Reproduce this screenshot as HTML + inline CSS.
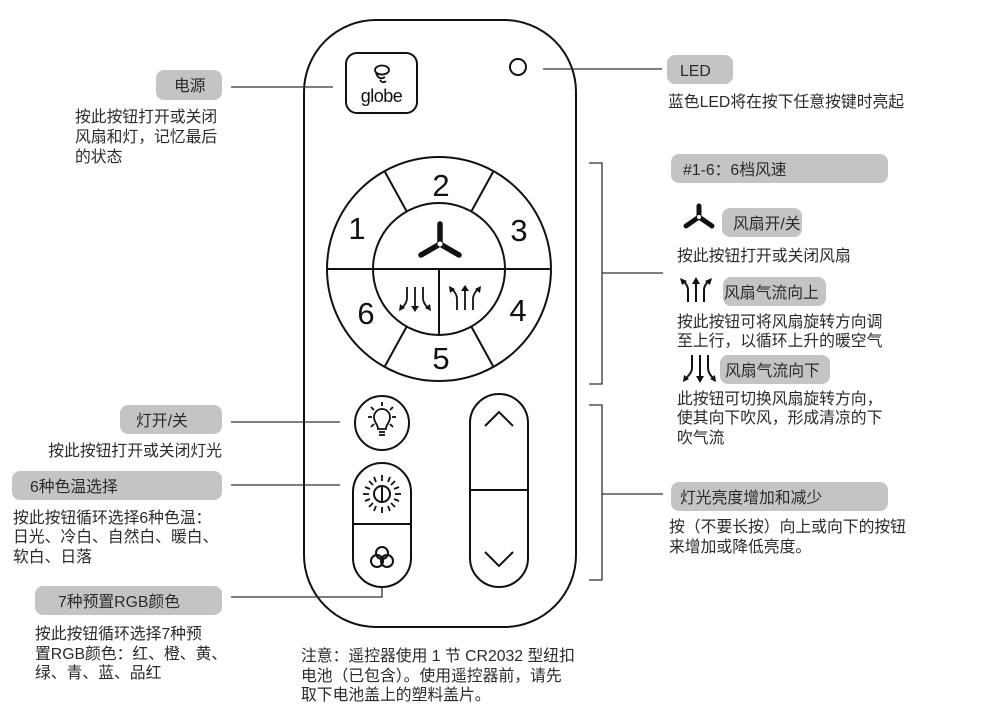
<!DOCTYPE html>
<html><head><meta charset="utf-8"><style>
html,body{margin:0;padding:0;background:#fff;}
svg{display:block;}
.t{font-family:"Liberation Sans","Noto Sans CJK SC",sans-serif;font-size:15.8px;fill:#2a2a2a;}
.n{font-family:"Liberation Sans",sans-serif;font-size:31px;fill:#111;}
</style></head><body>
<svg width="983" height="713" viewBox="0 0 983 713" xmlns="http://www.w3.org/2000/svg">
<g fill="none" stroke="#111" stroke-width="2">
<rect x="304" y="20" width="272" height="607" rx="72"/>
<rect x="346" y="53" width="71" height="60" rx="11"/>
<circle cx="518" cy="67" r="8"/>
<circle cx="439" cy="269" r="112"/>
<circle cx="439" cy="269" r="66"/>
<line x1="327" y1="269" x2="551" y2="269"/>
<line x1="439" y1="269" x2="439" y2="335"/>
<line x1="385" y1="172" x2="407" y2="212"/>
<line x1="493" y1="172" x2="471" y2="212"/>
<line x1="385" y1="366" x2="407" y2="326"/>
<line x1="493" y1="366" x2="471" y2="326"/>
<circle cx="382" cy="423" r="27"/>
<rect x="353" y="463" width="58" height="124" rx="29"/>
<line x1="353" y1="524" x2="411" y2="524"/>
<rect x="470" y="394" width="58" height="193" rx="29"/>
<line x1="470" y1="490" x2="528" y2="490"/>
<polyline points="485,426 499,412 513,426"/>
<polyline points="485,552 499,566 513,552"/>
<circle cx="382" cy="553" r="6"/>
<circle cx="377" cy="561" r="6"/>
<circle cx="387" cy="561" r="6"/>
<circle cx="382" cy="494" r="8"/>
<line x1="382" y1="486" x2="382" y2="502"/>
<g stroke-width="1.8">
<line x1="382" y1="475" x2="382" y2="481"/><line x1="382" y1="507" x2="382" y2="513"/>
<line x1="363" y1="494" x2="369" y2="494"/><line x1="395" y1="494" x2="401" y2="494"/>
<line x1="369" y1="481" x2="373" y2="485"/><line x1="391" y1="503" x2="395" y2="507"/>
<line x1="395" y1="481" x2="391" y2="485"/><line x1="369" y1="507" x2="373" y2="503"/>
<line x1="374" y1="477" x2="376" y2="482"/><line x1="388" y1="506" x2="390" y2="511"/>
<line x1="390" y1="477" x2="388" y2="482"/><line x1="374" y1="511" x2="376" y2="506"/>
<line x1="365" y1="487" x2="370" y2="489"/><line x1="394" y1="499" x2="399" y2="501"/>
<line x1="399" y1="487" x2="394" y2="489"/><line x1="365" y1="501" x2="370" y2="499"/>
</g>
<g stroke-width="1.8">
<path d="M378,429 C378,424 374,423 374,417 A8,8 0 1 1 390,417 C390,423 386,424 386,429 Z"/>
<line x1="379" y1="432" x2="385" y2="432"/><line x1="379" y1="435" x2="385" y2="435"/>
<line x1="382" y1="402" x2="382" y2="406"/>
<line x1="368" y1="417" x2="372" y2="417"/><line x1="392" y1="417" x2="396" y2="417"/>
<line x1="371" y1="407" x2="374" y2="410"/><line x1="393" y1="407" x2="390" y2="410"/>
<line x1="371" y1="427" x2="374" y2="424"/><line x1="393" y1="427" x2="390" y2="424"/>
</g>
</g>
<g stroke="#111" stroke-width="5.5" stroke-linecap="round" fill="none">
<line x1="440" y1="244" x2="440" y2="224"/>
<line x1="440" y1="244" x2="421" y2="255"/>
<line x1="440" y1="244" x2="459" y2="255"/>
</g>
<circle cx="440" cy="244" r="2.5" fill="#fff"/>
<g stroke="#111" stroke-width="1.8" fill="none">
<path d="M407,287 V298 Q407,303 402,308"/><path d="M415,287 V308"/><path d="M423,287 V298 Q423,303 428,308"/>
</g>
<g fill="#111"><path d="M399,311 L400,304 L405,308Z"/><path d="M411,306 L419,306 L415,312Z"/><path d="M431,311 L425,308 L430,304Z"/></g>
<g stroke="#111" stroke-width="1.8" fill="none">
<path d="M457,310 V299 Q457,294 452,289"/><path d="M465,310 V289"/><path d="M473,310 V299 Q473,294 478,289"/>
</g>
<g fill="#111"><path d="M449,286 L455,289 L450,293Z"/><path d="M461,291 L469,291 L465,285Z"/><path d="M481,286 L480,293 L475,289Z"/></g>
<text class="n" x="357" y="239" text-anchor="middle">1</text>
<text class="n" x="441" y="196" text-anchor="middle">2</text>
<text class="n" x="519" y="241" text-anchor="middle">3</text>
<text class="n" x="518" y="321" text-anchor="middle">4</text>
<text class="n" x="441" y="369" text-anchor="middle">5</text>
<text class="n" x="366" y="324" text-anchor="middle">6</text>
<text x="381.5" y="102" text-anchor="middle" style="font-family:'Liberation Sans',sans-serif;font-size:18px;fill:#111;letter-spacing:-0.5px">globe</text>
<g fill="none" stroke="#111" stroke-width="1.8">
<ellipse cx="382" cy="70" rx="7" ry="4.5"/>
<path d="M376,73 Q379,81 385,77 M380,80 Q383,84 386,81"/>
</g>
<g stroke="#333" stroke-width="1.3" fill="none">
<line x1="231" y1="87" x2="333" y2="87"/>
<line x1="543" y1="69" x2="662" y2="69"/>
<line x1="231" y1="422" x2="340" y2="422"/>
<line x1="231" y1="485" x2="340" y2="485"/>
<polyline points="231,597 382,597 382,588"/>
<polyline points="589,163 602,163 602,384 589,384"/>
<line x1="602" y1="273" x2="663" y2="273"/>
<polyline points="589,405 602,405 602,580 589,580"/>
<line x1="602" y1="494" x2="663" y2="494"/>
</g>
<g fill="#c4c4c4">
<rect x="156" y="70" width="66" height="30" rx="8"/>
<rect x="667" y="55" width="66" height="29" rx="8"/>
<rect x="671" y="154" width="217" height="29" rx="8"/>
<rect x="722" y="208" width="80" height="29" rx="8"/>
<rect x="723" y="277" width="103" height="29" rx="8"/>
<rect x="720" y="355" width="110" height="29" rx="8"/>
<rect x="671" y="482" width="217" height="29" rx="8"/>
<rect x="120" y="405" width="102" height="29" rx="8"/>
<rect x="12" y="471" width="210" height="29" rx="8"/>
<rect x="35" y="586" width="187" height="29" rx="8"/>
</g>
<g class="t">
<text x="174" y="91">电源</text>
<text x="75" y="122">按此按钮打开或关闭</text>
<text x="75" y="142">风扇和灯，记忆最后</text>
<text x="75" y="162">的状态</text>
<text x="680" y="76">LED</text>
<text x="668" y="107">蓝色LED将在按下任意按键时亮起</text>
<text x="683" y="175">#1-6：6档风速</text>
<text x="733" y="229">风扇开/关</text>
<text x="677" y="261">按此按钮打开或关闭风扇</text>
<text x="724" y="298">风扇气流向上</text>
<text x="677" y="327">按此按钮可将风扇旋转方向调</text>
<text x="677" y="346">至上行，以循环上升的暖空气</text>
<text x="725" y="376">风扇气流向下</text>
<text x="677" y="404">此按钮可切换风扇旋转方向，</text>
<text x="677" y="423">使其向下吹风，形成清凉的下</text>
<text x="677" y="443">吹气流</text>
<text x="680" y="503">灯光亮度增加和减少</text>
<text x="669" y="532">按（不要长按）向上或向下的按钮</text>
<text x="669" y="552">来增加或降低亮度。</text>
<text x="136" y="426">灯开/关</text>
<text x="222" y="456" text-anchor="end">按此按钮打开或关闭灯光</text>
<text x="30" y="492">6种色温选择</text>
<text x="13" y="523">按此按钮循环选择6种色温：</text>
<text x="13" y="542">日光、冷白、自然白、暖白、</text>
<text x="13" y="562">软白、日落</text>
<text x="58" y="607">7种预置RGB颜色</text>
<text x="35" y="639">按此按钮循环选择7种预</text>
<text x="35" y="659">置RGB颜色：红、橙、黄、</text>
<text x="35" y="678">绿、青、蓝、品红</text>
<text x="301" y="661">注意：遥控器使用 1 节 CR2032 型纽扣</text>
<text x="301" y="681">电池（已包含）。使用遥控器前，请先</text>
<text x="301" y="700">取下电池盖上的塑料盖片。</text>
</g>
<g stroke="#111" stroke-width="5" stroke-linecap="round" fill="none">
<line x1="699" y1="217" x2="699" y2="206"/>
<line x1="699" y1="217" x2="686" y2="226"/>
<line x1="699" y1="217" x2="712" y2="226"/>
</g>
<circle cx="699" cy="217" r="2" fill="#fff"/>
<g stroke="#111" stroke-width="2" fill="none">
<path d="M688,302 V290 Q688,285 683,281"/><path d="M696,302 V281"/><path d="M704,302 V290 Q704,285 709,281"/>
<path d="M692,355 V368 Q692,373 686,378"/><path d="M700,355 V378"/><path d="M708,355 V368 Q708,373 713,378"/>
</g>
<g fill="#111">
<path d="M680,278 L687,281 L682,285Z"/><path d="M692,284 L700,284 L696,277Z"/><path d="M712,278 L710,285 L705,281Z"/>
<path d="M683,382 L684,375 L689,379Z"/><path d="M696,376 L704,376 L700,383Z"/><path d="M716,382 L710,379 L715,375Z"/>
</g>
</svg>
</body></html>
